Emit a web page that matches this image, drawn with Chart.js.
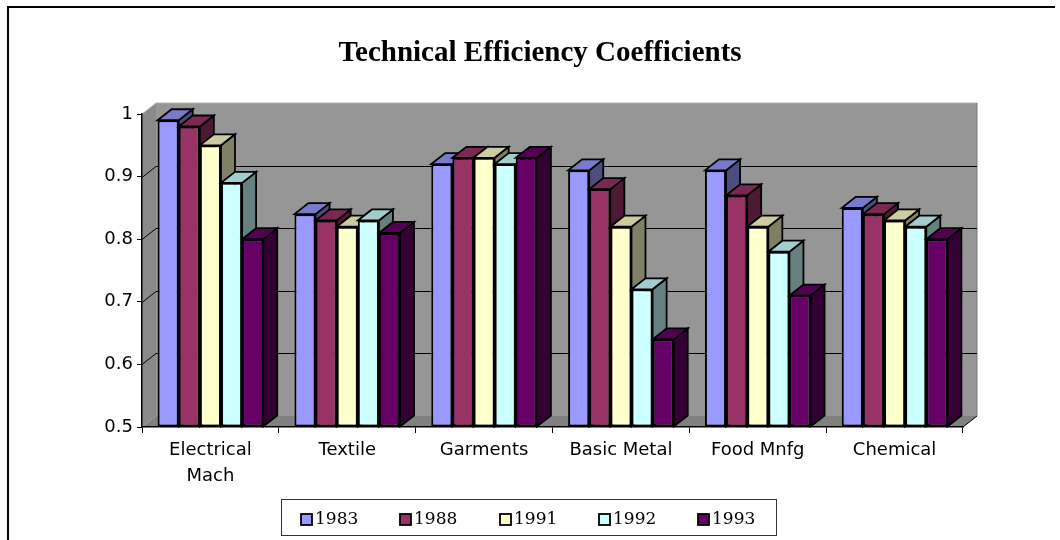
<!DOCTYPE html>
<html><head><meta charset="utf-8">
<script src="https://cdn.jsdelivr.net/npm/chart.js@4/dist/chart.umd.min.js"></script>
<style>html,body{margin:0;padding:0;background:#fff}canvas{display:block}</style>
</head><body>
<canvas id="c" width="1060" height="540"></canvas>
<script>
const categories = [["Electrical","Mach"], "Textile", "Garments", "Basic Metal", "Food Mnfg", "Chemical"];
const years = ["1983", "1988", "1991", "1992", "1993"];
const v1983 = [0.99, 0.84, 0.92, 0.91, 0.91, 0.85];
const v1988 = [0.98, 0.83, 0.93, 0.88, 0.87, 0.84];
const v1991 = [0.95, 0.82, 0.93, 0.82, 0.82, 0.83];
const v1992 = [0.89, 0.83, 0.92, 0.72, 0.78, 0.82];
const v1993 = [0.80, 0.81, 0.93, 0.64, 0.71, 0.80];
const yTicks = [0.5, 0.6, 0.7, 0.8, 0.9, 1];
const titleText = "Technical Efficiency Coefficients";

const seriesValues = [v1983, v1988, v1991, v1992, v1993];
const colors = ["#9999FF", "#993366", "#FFFFCC", "#CCFFFF", "#660066"];
const DX = 14, DY = 11;

function shade(hex, f) {
  const n = parseInt(hex.slice(1), 16);
  const r = Math.round(((n >> 16) & 255) * f), g = Math.round(((n >> 8) & 255) * f), b = Math.round((n & 255) * f);
  return `rgb(${r},${g},${b})`;
}
function poly(ctx, pts, fill, stroke, lw) {
  ctx.beginPath();
  ctx.moveTo(pts[0][0], pts[0][1]);
  for (let i = 1; i < pts.length; i++) ctx.lineTo(pts[i][0], pts[i][1]);
  ctx.closePath();
  if (fill) { ctx.fillStyle = fill; ctx.fill(); }
  if (stroke) { ctx.strokeStyle = stroke; ctx.lineWidth = lw || 1; ctx.lineJoin = 'miter'; ctx.stroke(); }
}

const threeD = {
  id: 'threeD',
  beforeDraw(chart) {
    const { ctx, chartArea: a, scales: { y } } = chart;
    ctx.save();
    // outer border
    ctx.strokeStyle = '#000'; ctx.lineWidth = 2;
    ctx.beginPath(); ctx.moveTo(8, 540); ctx.lineTo(8, 7); ctx.lineTo(1055, 7); ctx.stroke();
    // back wall
    poly(ctx, [[a.left + DX, a.top - DY], [a.right + DX, a.top - DY], [a.right + DX, a.bottom - DY], [a.left + DX, a.bottom - DY]], '#969696');
    // left wall
    poly(ctx, [[a.left, a.top], [a.left + DX, a.top - DY], [a.left + DX, a.bottom - DY], [a.left, a.bottom]], '#8a8a8a');
    // floor
    poly(ctx, [[a.left, a.bottom], [a.right, a.bottom], [a.right + DX, a.bottom - DY], [a.left + DX, a.bottom - DY]], '#808080');
    // wall edges
    ctx.strokeStyle = '#b4b4b4'; ctx.lineWidth = 1;
    ctx.beginPath(); ctx.moveTo(a.left, a.top); ctx.lineTo(a.left + DX, a.top - DY); ctx.lineTo(a.right + DX, a.top - DY); ctx.stroke();
    ctx.strokeStyle = '#7a7a7a';
    ctx.beginPath(); ctx.moveTo(a.right + DX, a.top - DY); ctx.lineTo(a.right + DX, a.bottom - DY); ctx.stroke();
    // gridlines on walls
    ctx.strokeStyle = '#000'; ctx.lineWidth = 1;
    yTicks.forEach(v => {
      if (v <= y.min || v >= y.max) return;
      const py = Math.round(y.getPixelForValue(v)) + 0.5;
      ctx.beginPath();
      ctx.moveTo(a.left, py);
      ctx.lineTo(a.left + DX, py - DY);
      ctx.lineTo(a.right + DX, py - DY);
      ctx.stroke();
    });
    // floor right edge
    ctx.strokeStyle = '#000'; ctx.lineWidth = 1;
    ctx.beginPath(); ctx.moveTo(a.right, a.bottom); ctx.lineTo(a.right + DX, a.bottom - DY); ctx.stroke();
    ctx.restore();
  },
  beforeDatasetsDraw(chart) {
    // draw series left to right so each bar's front covers the previous bar's side face
    const { ctx, chartArea: a } = chart;
    ctx.save();
    ctx.beginPath();
    ctx.rect(a.left, a.top - DY - 30, a.right - a.left + DX + 2, a.bottom - a.top + DY + 31);
    ctx.clip();
    for (let i = 0; i < chart.data.datasets.length; i++) {
      const meta = chart.getDatasetMeta(i);
      const base = colors[i];
      meta.data.forEach(el => {
        const p = el.getProps(['x', 'y', 'base', 'width'], true);
        const l = p.x - p.width / 2, r = p.x + p.width / 2, t = p.y, b = Math.min(p.base, a.bottom);
        poly(ctx, [[r, t], [r + DX, t - DY], [r + DX, b - DY], [r, b]], shade(base, 0.5), '#000', 1.8);
        poly(ctx, [[l, t], [l + DX, t - DY], [r + DX, t - DY], [r, t]], shade(base, 0.8), '#000', 1.8);
        el.draw(ctx, a);
      });
    }
    ctx.restore();
    return false;
  },
  afterDraw(chart) {
    const { ctx } = chart;
    ctx.save();
    // title
    ctx.fillStyle = '#000';
    ctx.font = 'bold 29px "Liberation Serif"';
    ctx.textAlign = 'center'; ctx.textBaseline = 'alphabetic';
    ctx.fillText(titleText, 540, 61);
    // legend
    ctx.strokeStyle = '#333'; ctx.lineWidth = 1;
    ctx.strokeRect(281.5, 499.5, 495, 36);
    ctx.font = '17px "DejaVu Serif"';
    ctx.textAlign = 'left';
    chart.data.datasets.forEach((ds, i) => {
      const x = Math.round(301 + i * 99.3);
      ctx.fillStyle = ds.backgroundColor;
      ctx.fillRect(x, 514, 11, 11);
      ctx.strokeStyle = '#000'; ctx.lineWidth = 1.8;
      ctx.strokeRect(x, 514, 11, 11);
      ctx.fillStyle = '#000';
      ctx.fillText(ds.label, x + 14, 524);
    });
    ctx.restore();
  }
};

new Chart(document.getElementById('c'), {
  type: 'bar',
  data: {
    labels: categories,
    datasets: years.map((yr, i) => ({
      label: yr,
      data: seriesValues[i],
      base: yTicks[0],
      backgroundColor: colors[i],
      borderColor: '#000',
      borderWidth: 2,
      borderSkipped: false,
      categoryPercentage: 0.772,
      barPercentage: 1.0
    }))
  },
  options: {
    responsive: false,
    devicePixelRatio: 1,
    animation: false,
    layout: { padding: { left: 92, right: 97, top: 114, bottom: 53 } },
    plugins: { legend: { display: false }, title: { display: false }, tooltip: { enabled: false } },
    scales: {
      x: {
        afterFit(s) { s.height = 60; },
        grid: { drawOnChartArea: false, drawTicks: true, tickLength: 6, color: '#000', offset: true },
        border: { display: true, color: '#000', width: 1.5 },
        ticks: { color: '#000', padding: 4, maxRotation: 0, autoSkip: false, font: { family: 'DejaVu Sans', size: 18, lineHeight: 1.45 } }
      },
      y: {
        min: 0.5, max: 1,
        afterFit(s) { s.width = 50; },
        afterBuildTicks(s) { s.ticks = yTicks.map(v => ({ value: v })); },
        grid: { drawOnChartArea: false, drawTicks: true, tickLength: 5, color: '#000' },
        border: { display: true, color: '#000', width: 1.5 },
        ticks: { color: '#000', padding: 4, font: { family: 'DejaVu Sans', size: 18 }, callback: v => String(Math.round(v * 10) / 10) }
      }
    }
  },
  plugins: [threeD]
});
</script>
</body></html>
